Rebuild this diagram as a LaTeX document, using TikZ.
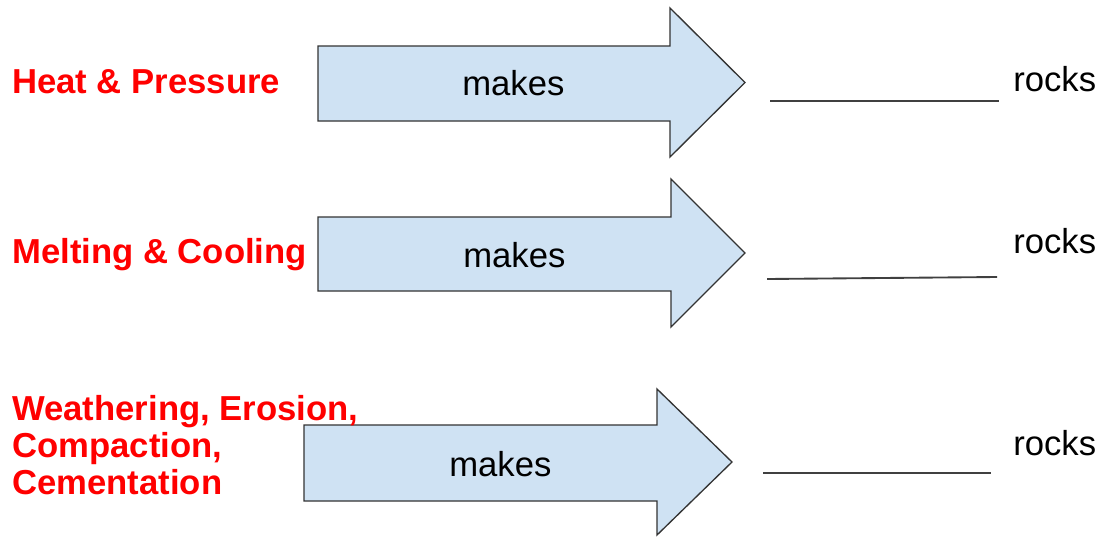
\documentclass[tikz,border=0pt]{standalone}
\usepackage{fontspec}
\setmainfont{Liberation Sans}
\definecolor{arrowblue}{HTML}{CFE2F3}
\definecolor{blankgray}{HTML}{404040}
\tikzset{
	flowarrow/.style={draw=black!80, fill=arrowblue, line width=1pt, line join=miter},
	process/.style={anchor=base west, inner sep=0pt, text=red, font=\fontsize{26}{27.75}\selectfont\bfseries},
	verb/.style={anchor=base west, inner sep=0pt, font=\fontsize{26}{30}\selectfont},
	blank/.style={draw=blankgray, line width=1.4pt},
}
\begin{document}
\begin{tikzpicture}[x=0.75pt, y=-0.75pt]
	\useasboundingbox (0,0) rectangle (1102,536);

	\draw[flowarrow] (318,46) -- (670,46) -- (670,8) -- (745,82.5) -- (670,157) -- (670,121) -- (318,121) -- cycle;
	\draw[flowarrow] (318,217) -- (671,217) -- (671,179) -- (745,253) -- (671,327) -- (671,291) -- (318,291) -- cycle;
	\draw[flowarrow] (304,425) -- (657,425) -- (657,389) -- (732,462) -- (657,535) -- (657,501) -- (304,501) -- cycle;

	\node[process] (heat) at (12,93) {Heat \& Pressure};
	\node[process] (melt) at (12,263) {Melting \& Cooling};
	\node[process, anchor=north west, align=left] (weather) at (12,395) {Weathering, Erosion,\\Compaction,\\Cementation};

	\node[verb] (makes1) at (462,95.5) {makes};
	\node[verb] (makes2) at (463,267) {makes};
	\node[verb] (makes3) at (449,476) {makes};

	\coordinate (blank1a) at (770,101);
	\coordinate (blank1b) at (999,101);
	\coordinate (blank2a) at (767,279);
	\coordinate (blank2b) at (997,277);
	\coordinate (blank3a) at (763,473);
	\coordinate (blank3b) at (991,473);

	\path [blank] (blank1a) edge (blank1b);
	\path [blank] (blank2a) edge (blank2b);
	\path [blank] (blank3a) edge (blank3b);

	\node[verb] (rocks1) at (1013,91) {rocks};
	\node[verb] (rocks2) at (1013,253) {rocks};
	\node[verb] (rocks3) at (1013,455) {rocks};
\end{tikzpicture}
\end{document}
